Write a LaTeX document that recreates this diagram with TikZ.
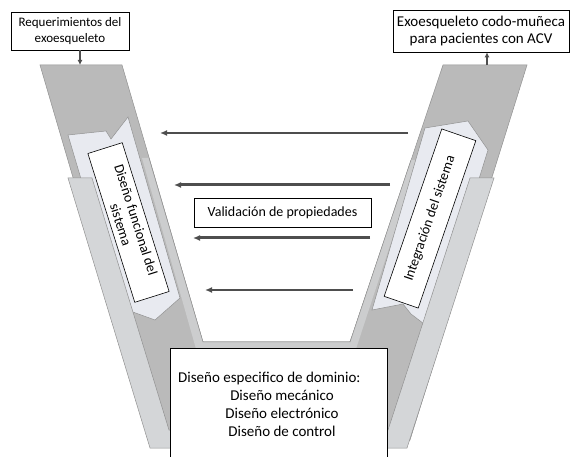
\documentclass[tikz,border=0pt]{standalone}
\usepackage{fontspec}
\setmainfont{Carlito}
\usetikzlibrary{arrows.meta, calc}
\definecolor{armgray}{RGB}{186,186,186}
\definecolor{bevelgray}{RGB}{204,205,206}
\definecolor{bandgray}{RGB}{212,214,216}
\definecolor{panelblue}{RGB}{232,234,240}
\definecolor{edgegray}{RGB}{145,145,145}
\definecolor{arrowgray}{RGB}{78,78,78}

\begin{document}
\begin{tikzpicture}[x=1pt, y=-1pt,
  every node/.style={font=\fontsize{14pt}{16pt}\selectfont},
  labelbox/.style={draw=black, fill=white, line width=0.6pt, align=center, inner sep=2pt},
  armbox/.style={draw=black, fill=white, line width=0.6pt, align=center, inner sep=1pt},
  valarrow/.style={draw=arrowgray, -{Latex[length=7pt, width=6pt]}}]
 \useasboundingbox (0,0) rectangle (571,457);

 % V body: both arms and the bottom
 \fill[armgray, draw=edgegray, line width=0.5pt]
  (40,65) -- (122,65) -- (203,342) -- (350,342) -- (443,65) -- (527,65)
  -- (410,440) -- (150,440) -- cycle;
 % lighter bevel along the inside of the V
 \fill[bevelgray]
  (149,158) -- (203,342) -- (350,342) -- (411,160) -- (418,160) -- (356,349)
  -- (196,349) -- (142,158) -- cycle;
 \draw[edgegray, line width=0.5pt] (149,158) -- (203,342) -- (350,342) -- (411,160);

 % Inner panels (left goes down, right goes up)
 \fill[panelblue, draw=edgegray, line width=0.5pt]
  (68,135) -- (106,131) -- (111,139) -- (128,117) -- (180,298) -- (155,320) -- (119,307) -- cycle;
 \fill[panelblue, draw=edgegray, line width=0.5pt]
  (425,128) -- (468,121) -- (488,150) -- (432,330) -- (411,314) -- (403,304) -- (372,310) -- cycle;

 % Outer light band round the bottom of the V
 \fill[bandgray, draw=edgegray, line width=0.5pt]
  (68,178) -- (92,178) -- (169,430) -- (388,430) -- (470,178) -- (494,178)
  -- (407,448) -- (150,448) -- cycle;

 % Arm labels
 \node[armbox, rotate=-72.5, minimum width=156pt, minimum height=36pt] (funcbox)
  at (128.5,222.5) {Diseño funcional del\\sistema};
 \node[armbox, rotate=71, minimum width=177pt, minimum height=36pt] (intbox)
  at (430,218.5) {Integración del sistema};

 % Top boxes
 \node[labelbox, minimum width=118pt, minimum height=38pt, font=\fontsize{13pt}{16pt}\selectfont]
  (reqbox) at (70,31) {Requerimientos del\\exoesqueleto};
 \node[labelbox, minimum width=176pt, minimum height=42pt, font=\fontsize{15pt}{17pt}\selectfont]
  (exobox) at (481,31) {Exoesqueleto codo-muñeca\\para pacientes con ACV};
 \coordinate (leftin) at (80,65);
 \coordinate (rightout) at (487,65);
 \draw[arrowgray, line width=1.2pt, -{Latex[length=5pt, width=5pt]}] (leftin |- reqbox.south) -- (leftin);
 \draw[arrowgray, line width=1.2pt, -{Latex[length=5pt, width=5pt]}] (rightout) -- (rightout |- exobox.south);

 % Validation arrows from right arm to left arm
 \foreach \i/\y/\xa/\xb/\w in {1/133/408/160/2.2, 2/185/390/174/3, 3/238/370/193/3, 4/290/353/205/2.4} {
  \coordinate (valfrom\i) at (\xa,\y);
  \coordinate (valto\i) at (\xb,\y);
  \draw[valarrow, line width=\w pt] (valfrom\i) -- (valto\i);
 }
 \node[labelbox, minimum width=177pt, minimum height=29pt] (valbox) at (282.5,212.5)
  {Validación de propiedades};

 % Domain specific design
 \node[draw=black, fill=white, line width=0.6pt, anchor=north west,
  minimum width=217pt, minimum height=130pt] (domainbox) at (170,348) {};
 \node[anchor=west, inner sep=0, font=\fontsize{15pt}{18pt}\selectfont] (domtitle) at (178,379)
  {Diseño especifico de dominio:};
 \node[align=center, inner sep=0, font=\fontsize{15pt}{18pt}\selectfont] (domlist) at (282,413)
  {Diseño mecánico\\Diseño electrónico\\Diseño de control};
\end{tikzpicture}
\end{document}
